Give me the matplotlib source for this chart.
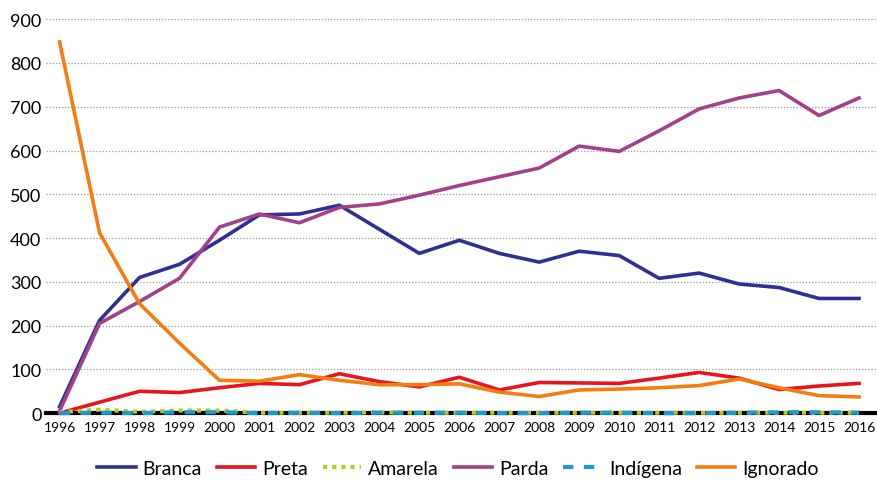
import numpy as np
import matplotlib.pyplot as plt

plt.rcParams['font.family'] = ['Lato', 'DejaVu Sans']

anos = list(range(1996, 2017))
branca = [15, 212, 310, 340, 395, 453, 455, 475, 420, 365, 395, 365, 345, 370, 360, 308, 320, 295, 287, 262, 262]
preta = [0, 25, 50, 47, 58, 68, 65, 90, 72, 60, 82, 53, 70, 69, 68, 80, 93, 80, 54, 62, 68]
amarela = [2, 8, 3, 6, 6, 1, 1, 1, 2, 1, 1, 1, 1, 1, 1, 1, 1, 1, 1, 1, 1]
parda = [5, 205, 255, 308, 425, 455, 435, 470, 478, 498, 520, 540, 560, 610, 598, 645, 695, 720, 737, 680, 720]
indigena = [0, 1, 0, 2, 2, 0, 1, 0, 1, 1, 1, 0, 0, 1, 1, 0, 0, 1, 2, 2, 1]
ignorado = [848, 412, 250, 160, 75, 73, 88, 75, 65, 65, 67, 48, 38, 53, 55, 58, 63, 78, 58, 40, 37]

fig = plt.figure(figsize=(8.77, 4.81), dpi=100)
ax = fig.add_axes([0.052, 0.139, 0.948, 0.819])

ax.axhline(0, color='black', lw=3, zorder=2, clip_on=False)
ax.plot(anos, branca, color='#2e3192', lw=2.6, label='Branca', zorder=3)
ax.plot(anos, preta, color='#e8141e', lw=2.6, label='Preta', zorder=3, clip_on=False)
ax.plot(anos, amarela, color='#b5cc18', lw=3, ls=(0, (1, 1.2)), label='Amarela', zorder=4, clip_on=False)
ax.plot(anos, parda, color='#a2418a', lw=2.6, label='Parda', zorder=3, clip_on=False)
ax.plot(anos, indigena, color='#1b9ad6', lw=3, ls=(0, (2.5, 2.5)), label='Indígena', zorder=4, clip_on=False)
ax.plot(anos, ignorado, color='#f47d0f', lw=2.6, label='Ignorado', zorder=3)

ax.set_xlim(1995.65, 2016.45)
ax.set_ylim(0, 900)
ax.set_yticks(range(0, 901, 100))
ax.set_xticks(anos)
ax.tick_params(axis='x', length=0, labelsize=10, pad=6)
ax.tick_params(axis='y', length=0, labelsize=13, pad=3)
ax.grid(axis='y', color='#999999', ls=(0, (1, 1.5)), lw=0.9)
ax.set_axisbelow(True)
for s in ax.spines.values():
    s.set_visible(False)

handles, labels = ax.get_legend_handles_labels()
fig.legend(handles, labels, loc='lower center', bbox_to_anchor=(0.522, -0.03), ncol=6,
           frameon=False, fontsize=14, handlelength=2.0, columnspacing=0.75,
           handletextpad=0.35)

fig.savefig('out.png', dpi=100)
